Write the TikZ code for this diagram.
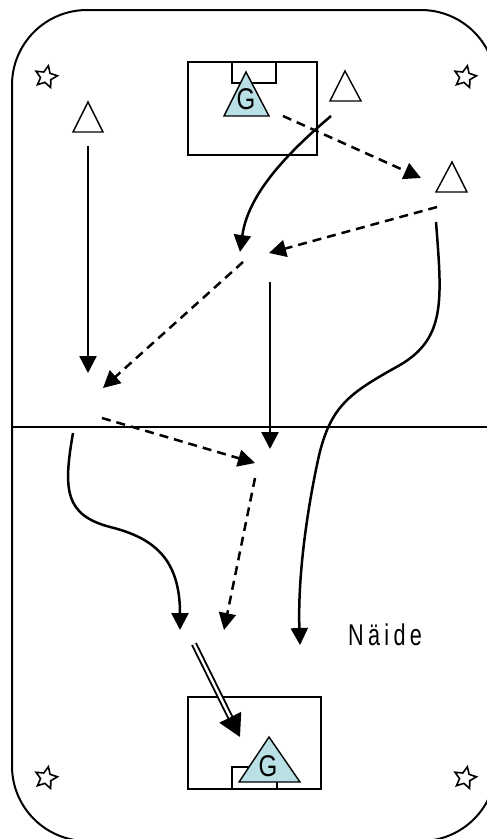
\documentclass[tikz,border=0pt]{standalone}
\usepackage{fontspec}
\newfontfamily\arialf{Liberation Sans}
\usetikzlibrary{arrows.meta,shapes.geometric}
\definecolor{gfill}{RGB}{185,224,228}
\begin{document}
\begin{tikzpicture}[x=1pt,y=-1pt,
  run/.style={line width=2.5pt,-{Triangle[length=17pt,width=17pt]}},
  pass/.style={run,dash pattern=on 9pt off 6pt},
  shot/.style={double,double distance=2.4pt,line width=1.9pt,-{Triangle[length=22pt,width=24pt]}},
  goalbox/.style={line width=2.2pt},
  ptri/.style={line width=1.4pt},
  gtri/.style={fill=gfill,draw=black,line width=1.4pt},
  gtext/.style={font=\arialf\fontsize{30}{30}\selectfont,inner sep=0pt},
  starsh/.style={star,star points=5,star point ratio=2.1,minimum size=23pt,inner sep=0pt,draw,line width=1.6pt,rotate=-12}]
\useasboundingbox (0,0) rectangle (487,839);
\clip (0,0) rectangle (487,839);
% field
\draw[line width=2pt,rounded corners=75pt] (12,10) rectangle (496,841);
\draw[line width=1.7pt] (12,427) -- (496,427);
% corner stars
\node[starsh] (s1) at (46,77) {};
\node[starsh] (s2) at (465,77) {};
\node[starsh] (s3) at (46,778) {};
\node[starsh] (s4) at (465,778) {};
% top goal
\draw[goalbox] (188,62) rectangle (317,155);
\draw[goalbox] (232,62) rectangle (276,83);
\draw[gtri] (246,72) -- (224,116) -- (269,116) -- cycle;
\node[gtext] (g1) at (246,99) {\scalebox{0.8}[1]{G}};
% bottom goal
\draw[goalbox] (188,697) rectangle (321,789);
\draw[goalbox] (232,767) rectangle (277,789);
\draw[gtri] (269,737) -- (239,782) -- (300,782) -- cycle;
\node[gtext] (g2) at (268,766) {\scalebox{0.8}[1]{G}};
% players
\draw[ptri] (345,71) -- (330,101) -- (361,101) -- cycle;
\draw[ptri] (88,102) -- (73,132) -- (103,132) -- cycle;
\draw[ptri] (452,162) -- (436,192) -- (467,192) -- cycle;
% connector end points
\coordinate (a1s) at (283,116); \coordinate (a1e) at (421,178);
\coordinate (a2s) at (331,116); \coordinate (a2e) at (240,252);
\coordinate (a3s) at (437,207); \coordinate (a3e) at (269,253);
\coordinate (a4s) at (243,262); \coordinate (a4e) at (103,388);
\coordinate (a5s) at (88,146);  \coordinate (a5e) at (88,373);
\coordinate (a6s) at (270,282); \coordinate (a6e) at (270,449);
\coordinate (a7s) at (436,222); \coordinate (a7e) at (300,645);
\coordinate (a8s) at (102,418); \coordinate (a8e) at (255,463);
\coordinate (a9s) at (255,478); \coordinate (a9e) at (224,630);
\coordinate (a10s) at (73,433); \coordinate (a10e) at (180,630);
\coordinate (a11s) at (194,644); \coordinate (a11e) at (240,737);
% passes
\draw[pass] (a1s) -- (a1e);
\draw[pass] (a3s) -- (a3e);
\draw[pass] (a4s) -- (a4e);
\draw[pass] (a8s) -- (a8e);
\draw[pass] (a9s) -- (a9e);
% runs
\draw[run] (a2s) .. controls (285,155) and (248,195) .. (a2e);
\draw[run] (a5s) -- (a5e);
\draw[run] (a6s) -- (a6e);
\draw[run] (a7s) .. controls (442,300) and (446,338) .. (400,365)
  .. controls (350,393) and (330,405) .. (318,460)
  .. controls (303,530) and (298,590) .. (a7e);
\draw[run] (a10s) .. controls (63,490) and (65,515) .. (110,527)
  .. controls (155,538) and (180,560) .. (a10e);
% shot
\draw[shot] (a11s) -- (a11e);
% label
\node[inner sep=0pt,font=\arialf\fontsize{30}{30}\selectfont] (naide) at (385,635) {\scalebox{0.72}[1]{\addfontfeature{LetterSpace=20}Näide}};
\end{tikzpicture}
\end{document}
